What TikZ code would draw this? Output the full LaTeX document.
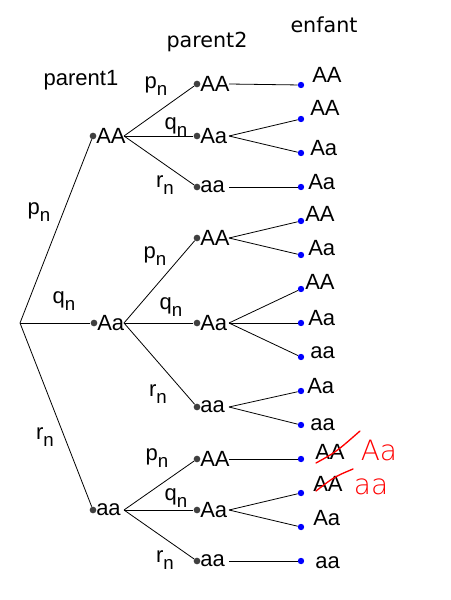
\documentclass[tikz,border=0pt]{standalone}
\usepackage{fontspec}
\setmainfont{Liberation Sans}
\newfontfamily\headfont{DejaVu Sans}
\newfontfamily\handfont{DejaVu Sans ExtraLight}
\usepackage{tikz}
\usetikzlibrary{positioning}
\usepackage{xcolor}
\definecolor{dotgray}{RGB}{64,64,64}
\newcommand\idx[1]{#1\raisebox{-0.32em}{\fontsize{14}{15}\selectfont n}}

\begin{document}
\begin{tikzpicture}[x=0.75pt, y=-0.75pt,
    every node/.style={font=\fontsize{16.5}{17}\selectfont, inner sep=0pt},
    pdot/.style={circle, fill=dotgray, minimum size=5pt},
    kdot/.style={circle, fill=blue, minimum size=4.8pt},
    gene/.style={anchor=west},
    head/.style={font=\headfont\fontsize{15.5}{17}\selectfont},
    fix/.style={red, font=\handfont\fontsize{21}{22}\selectfont},
    branch/.style={line width=0.6pt}]
  \useasboundingbox (0,0) rectangle (450,600);
  % headers
  \node (h1) at (81,80) {parent1};
  \node[head] (h2) at (207,42) {parent2};
  \node[head] (h3) at (324,25) {enfant};
  % root and parent1
  \coordinate (root) at (20,323);
  \node[pdot] (d1) at (93,136) {};
  \node[pdot] (d2) at (94,323) {};
  \node[pdot] (d3) at (93,510) {};
  \node[gene] (g1) at (96,136) {AA};
  \node[gene] (g2) at (97,323) {Aa};
  \node[gene] (g3) at (96,510) {aa};
  \coordinate (b1) at (124,136);
  \coordinate (b2) at (124,323);
  \coordinate (b3) at (124,510);
  \draw[branch] (root) -- (d1);
  \draw[branch] (root) -- (d2);
  \draw[branch] (root) -- (d3);
  \node (l1) at (39,212) {\idx{p}};
  \node (l2) at (64,301) {\idx{q}};
  \node (l3) at (45,437) {\idx{r}};
  % parent2
  \foreach \g/\y/\t in {11/84/AA, 12/136/Aa, 13/187/aa,
                        21/238/AA, 22/323/Aa, 23/407/aa,
                        31/459/AA, 32/510/Aa, 33/561/aa} {
    \node[pdot] (d\g) at (197,\y) {};
    \node[gene] (g\g) at (200,\y) {\t};
    \coordinate (b\g) at (229,\y);
  }
  \foreach \i in {1,2,3} {
    \draw[branch] (b\i) -- (d\i1);
    \draw[branch] (b\i) -- (d\i2);
    \draw[branch] (b\i) -- (d\i3);
  }
  \node (l11) at (156,86) {\idx{p}};
  \node (l12) at (176,127) {\idx{q}};
  \node (l13) at (165,185) {\idx{r}};
  \node (l21) at (155,256) {\idx{p}};
  \node (l22) at (171,307) {\idx{q}};
  \node (l23) at (158,394) {\idx{r}};
  \node (l31) at (157,458) {\idx{p}};
  \node (l32) at (176,498) {\idx{q}};
  \node (l33) at (165,560) {\idx{r}};
  % enfant
  \foreach \k/\y/\ty/\tx/\t in {111/85/75/312/AA,
      121/119/108/310/AA, 122/153/148/310/Aa,
      131/187/182/308/Aa,
      211/221/214/305/AA, 212/255/248/308/Aa,
      221/289/282/305/AA, 222/323/318/308/Aa, 223/357/353/310/aa,
      231/391/386/307/Aa, 232/425/425/310/aa,
      311/459/452/315/AA,
      321/493/484/313/AA, 322/527/518/313/Aa,
      331/561/563/315/aa} {
    \node[kdot] (k\k) at (301,\y) {};
    \node[gene] (e\k) at (\tx,\ty) {\t};
  }
  \draw[branch] (b11) -- (k111);
  \draw[branch] (b12) -- (k121);
  \draw[branch] (b12) -- (k122);
  \draw[branch] (b13) -- (k131);
  \draw[branch] (b21) -- (k211);
  \draw[branch] (b21) -- (k212);
  \draw[branch] (b22) -- (k221);
  \draw[branch] (b22) -- (k222);
  \draw[branch] (b22) -- (k223);
  \draw[branch] (b23) -- (k231);
  \draw[branch] (b23) -- (k232);
  \draw[branch] (b31) -- (k311);
  \draw[branch] (b32) -- (k321);
  \draw[branch] (b32) -- (k322);
  \draw[branch] (b33) -- (k331);
  % corrections
  \draw[red, line width=1pt, line cap=round] (316,463) .. controls (336,452) .. (360,431);
  \draw[red, line width=1pt, line cap=round] (316,491) .. controls (334,477) .. (353,469);
  \node[fix] (c1) at (379,450) {Aa};
  \node[fix] (c2) at (371,487) {aa};
\end{tikzpicture}
\end{document}
